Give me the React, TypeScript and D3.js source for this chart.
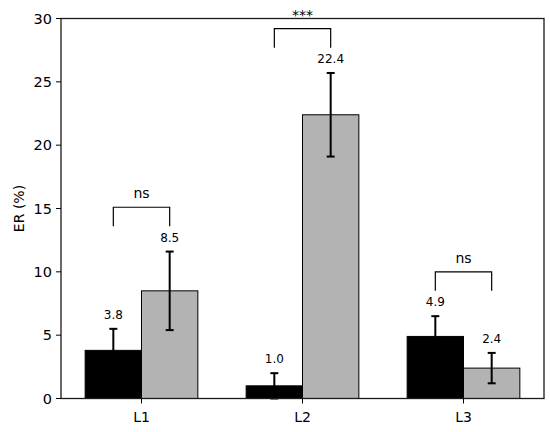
import React from 'react';
import * as d3 from 'd3';

const categories = ['L1', 'L2', 'L3'];
const blackValues = [3.8, 1.0, 4.9];
const blackErrors = [1.7, 1.0, 1.6];
const grayValues = [8.5, 22.4, 2.4];
const grayErrors = [3.1, 3.3, 1.2];
const sigLabels = ['ns', '***', 'ns'];
const yTicks = [0, 5, 10, 15, 20, 25, 30];

const W = 550;
const H = 432;
const left = 61;
const right = 544;
const top = 18.5;
const bottom = 398.5;
const barW = 0.35;
const font = 'DejaVu Sans, sans-serif';

export default function App() {
  const x = d3.scaleLinear().domain([-0.5, 2.5]).range([left, right]);
  const y = d3.scaleLinear().domain([0, 30]).range([bottom, top]);

  const series = [
    { values: blackValues, errors: blackErrors, fill: '#000000', offset: -barW / 2 },
    { values: grayValues, errors: grayErrors, fill: '#b3b3b3', offset: barW / 2 },
  ];

  return (
    <svg width={W} height={H} style={{ position: 'absolute', left: 0, top: 0, background: '#fff' }} fontFamily={font}>
      <rect x={0} y={0} width={W} height={H} fill="#fff" />
      {series.map((s, si) =>
        categories.map((c, i) => {
          const x0 = x(i + s.offset - barW / 2);
          const x1 = x(i + s.offset + barW / 2);
          return (
            <rect key={`${si}-${c}`} x={x0} y={y(s.values[i])} width={x1 - x0} height={y(0) - y(s.values[i])} fill={s.fill} stroke="#000" strokeWidth={1} />
          );
        })
      )}
      {series.map((s, si) =>
        categories.map((c, i) => {
          const cx = x(i + s.offset);
          const yt = y(s.values[i] + s.errors[i]);
          const yb = y(s.values[i] - s.errors[i]);
          return (
            <g key={`e-${si}-${c}`}>
              <line x1={cx} x2={cx} y1={yt} y2={yb} stroke="#000" strokeWidth={2} />
              <line x1={cx - 4} x2={cx + 4} y1={yt} y2={yt} stroke="#000" strokeWidth={2} />
              <line x1={cx - 4} x2={cx + 4} y1={yb} y2={yb} stroke="#000" strokeWidth={2} />
              <text x={cx} y={yt - 10} textAnchor="middle" fontSize={12} fill="#000">
                {s.values[i].toFixed(1)}
              </text>
            </g>
          );
        })
      )}
      {categories.map((c, i) => {
        const maxTop = Math.max(blackValues[i] + blackErrors[i], grayValues[i] + grayErrors[i]);
        const bt = maxTop + 3.5;
        const bl = bt - 1.5;
        const xa = x(i - barW / 2);
        const xb = x(i + barW / 2);
        return (
          <g key={`b-${c}`}>
            <path d={`M${xa},${y(bl)}V${y(bt)}H${xb}V${y(bl)}`} fill="none" stroke="#000" strokeWidth={1.2} />
            <text x={(xa + xb) / 2} y={y(bt) - 9} textAnchor="middle" fontSize={14} fill="#000">
              {sigLabels[i]}
            </text>
          </g>
        );
      })}
      <rect x={left} y={top} width={right - left} height={bottom - top} fill="none" stroke="#1a1a1a" strokeWidth={1.3} />
      {yTicks.map((t) => (
        <g key={`yt-${t}`}>
          <line x1={left - 5} x2={left} y1={y(t)} y2={y(t)} stroke="#000" strokeWidth={1} />
          <text x={left - 9} y={y(t)} textAnchor="end" dominantBaseline="central" fontSize={14.5} fill="#000">
            {t}
          </text>
        </g>
      ))}
      {categories.map((c, i) => (
        <g key={`xt-${c}`}>
          <line x1={x(i)} x2={x(i)} y1={bottom} y2={bottom + 5} stroke="#000" strokeWidth={1} />
          <text x={x(i)} y={bottom + 23} textAnchor="middle" fontSize={14} fill="#000">
            {c}
          </text>
        </g>
      ))}
      <text transform={`translate(23.5,${(top + bottom) / 2}) rotate(-90)`} textAnchor="middle" fontSize={14} fill="#000">
        ER (%)
      </text>
    </svg>
  );
}
